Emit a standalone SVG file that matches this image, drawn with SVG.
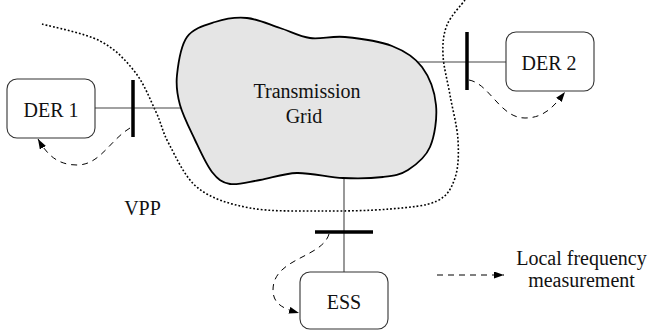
<svg xmlns="http://www.w3.org/2000/svg" width="650" height="332" viewBox="0 0 650 332">
<defs>
<style>
.lbl{font-family:"Liberation Serif","Times New Roman",serif;font-size:20px;fill:#111;text-anchor:middle}
.box{fill:#fff;stroke:#333;stroke-width:1.1}
.wire{stroke:#444;stroke-width:1.1;fill:none}
.bus{stroke:#000;stroke-width:3.5;fill:none}
.meas{stroke:#000;stroke-width:1;fill:none;stroke-dasharray:6 5;marker-end:url(#ah)}
.vpp{stroke:#000;stroke-width:1.6;fill:none;stroke-dasharray:1.8 2}
</style>
<marker id="ah" markerUnits="userSpaceOnUse" markerWidth="11" markerHeight="8" refX="10" refY="3.5" orient="auto">
<path d="M0,0 L10,3.5 L0,7 z" fill="#000"/>
</marker>
</defs>
<rect width="650" height="332" fill="#fff"/>

<g id="vpp-boundary">
<path class="vpp" d="M42,24 C51.7,26.8 84.5,33 100,41 C115.5,49 125.7,60.2 135,72 C144.3,83.8 150.3,100 156,112 C161.7,124 162,131.3 169,144 C176,156.7 184.5,177.3 198,188 C211.5,198.7 229.7,204.2 250,208 C270.3,211.8 296.7,210.8 320,211 C343.3,211.2 370.5,210.7 390,209 C409.5,207.3 426.2,206.2 437,201 C447.8,195.8 451.5,188.2 455,178 C458.5,167.8 458.8,153.8 458,140 C457.2,126.2 452.5,109.2 450,95 C447.5,80.8 443.5,66.7 443,55 C442.5,43.3 443.3,34.2 447,25 C450.7,15.8 462,4.2 465,0"/>
<text class="lbl" x="142.5" y="215">VPP</text>
</g>

<g id="connectors">
<line class="wire" x1="95" y1="108" x2="182" y2="108"/>
<line class="wire" x1="418" y1="62" x2="506" y2="62"/>
<line class="wire" x1="344" y1="177" x2="344" y2="272"/>
<line class="bus" x1="133" y1="80" x2="133" y2="137"/>
<line class="bus" x1="467" y1="32" x2="467" y2="90"/>
<line class="bus" x1="315" y1="232" x2="373" y2="232"/>
<path class="meas" d="M130,128 C110,140 100,165 77,165 C58,165 47,155 38,139"/>
<path class="meas" d="M469,80 C490,84 500,118 525,118 C545,118 555,105 565,92"/>
<path class="meas" d="M329,234 C322,258 273,258 273,290 C273,305 285,309 299,313"/>
</g>

<g id="grid">
<path d="M177,75 C178.2,63.7 180.7,45.8 187,37 C193.3,28.2 205,25.2 215,22 C225,18.8 236.2,17 247,18 C257.8,19 269.5,24.7 280,28 C290.5,31.3 299.2,36.5 310,38 C320.8,39.5 331.3,35.7 345,37 C358.7,38.3 379.2,41 392,46 C404.8,51 414.7,57.2 422,67 C429.3,76.8 434.7,91.7 436,105 C437.3,118.3 434.7,136.2 430,147 C425.3,157.8 415.8,165 408,170 C400.2,175 393.8,175.7 383,177 C372.2,178.3 357.3,178.7 343,178 C328.7,177.3 310.8,172.7 297,173 C283.2,173.3 271.2,178.2 260,180 C248.8,181.8 238,185.3 230,184 C222,182.7 217.8,179.3 212,172 C206.2,164.7 200.3,151.2 195,140 C189.7,128.8 183,115.8 180,105 C177,94.2 175.8,86.3 177,75 Z" fill="#e5e5e5" stroke="#000" stroke-width="1.8"/>
<text class="lbl" x="307" y="98">Transmission</text>
<text class="lbl" x="304" y="123">Grid</text>
</g>

<g id="der1">
<rect class="box" x="7" y="79" width="88" height="59" rx="10"/>
<text class="lbl" x="51" y="117">DER 1</text>
</g>

<g id="der2">
<rect class="box" x="506" y="32" width="88" height="59" rx="10"/>
<text class="lbl" x="549" y="70">DER 2</text>
</g>

<g id="ess">
<rect class="box" x="300" y="272" width="88" height="57" rx="10"/>
<text class="lbl" x="344" y="309">ESS</text>
</g>

<g id="legend">
<line class="meas" x1="437" y1="275" x2="504" y2="275"/>
<text class="lbl" x="581.5" y="265">Local frequency</text>
<text class="lbl" x="581.5" y="287">measurement</text>
</g>
</svg>
